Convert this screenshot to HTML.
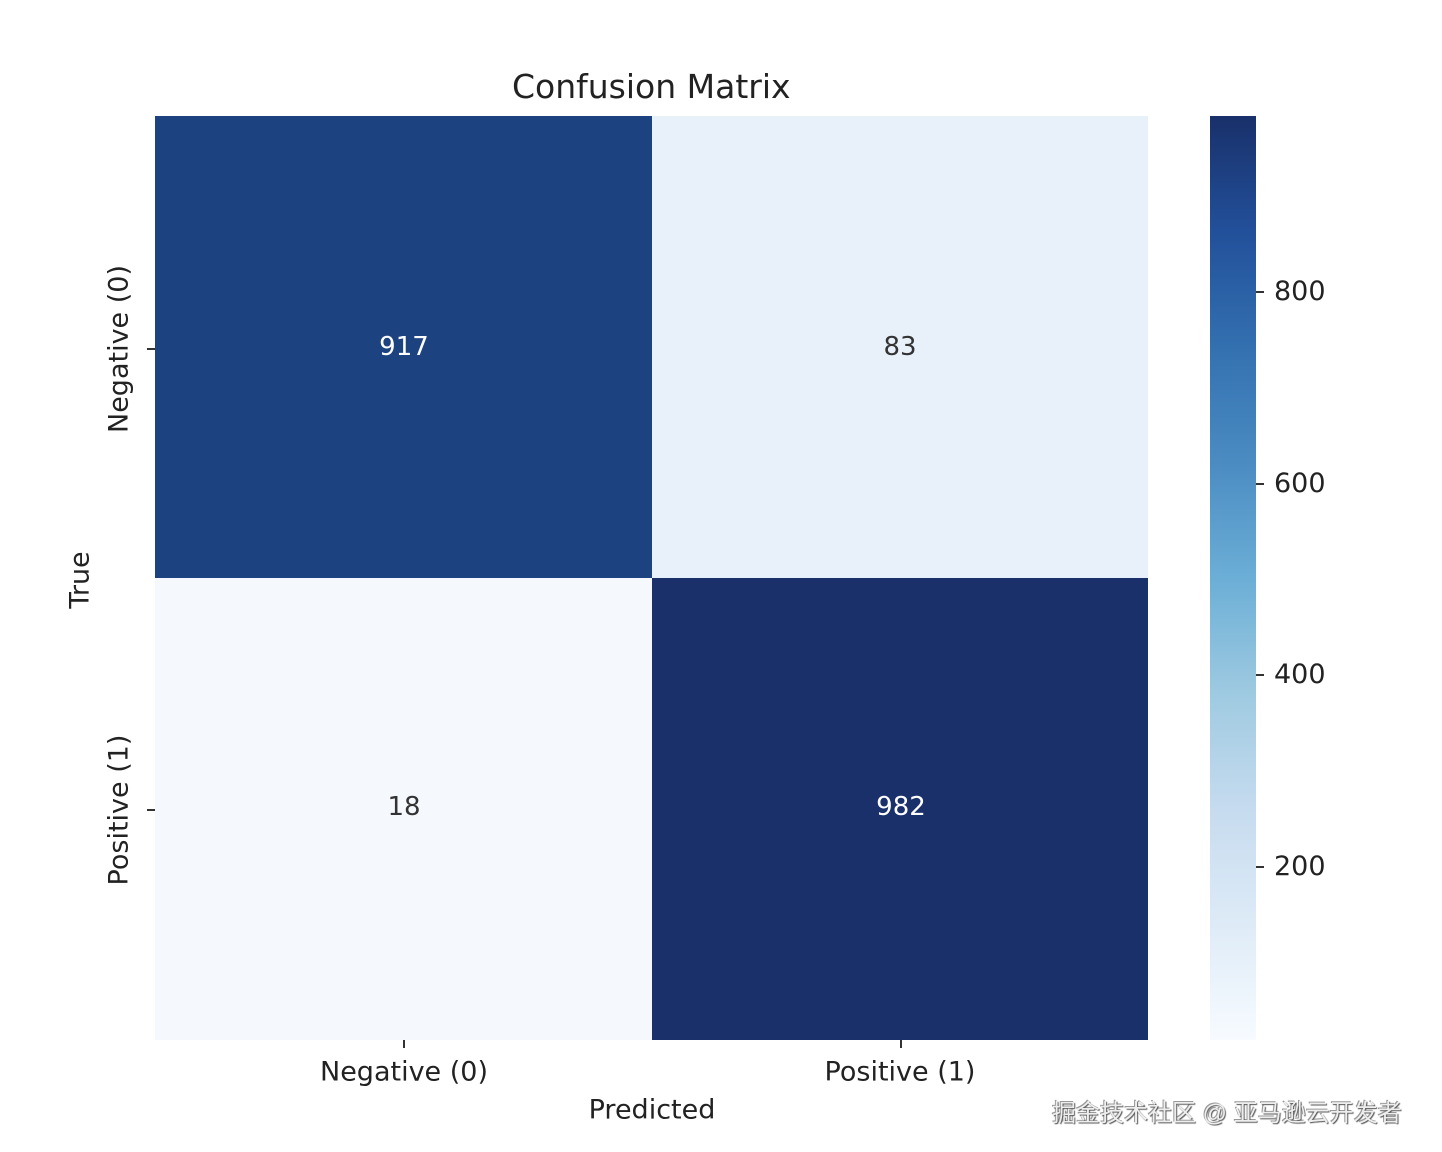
<!DOCTYPE html>
<html><head><meta charset="utf-8"><style>
html,body{margin:0;padding:0;background:#fff;}
body{width:1442px;height:1152px;position:relative;overflow:hidden;font-family:"DejaVu Sans","Liberation Sans",sans-serif;color:#222;}
.abs{position:absolute;}
.cell{position:absolute;}
.num{position:absolute;font-size:26px;transform:translate(-50%,-50%);}
.tk{position:absolute;background:#333;}
.lbl{position:absolute;font-size:27px;white-space:nowrap;}
</style></head><body>
<div class="lbl" style="left:512px;top:67px;font-size:33px;">Confusion Matrix</div>

<div class="cell" style="left:155px;top:116px;width:497px;height:462px;background:#1d4280;"></div>
<div class="cell" style="left:652px;top:116px;width:496px;height:462px;background:#e8f1fa;"></div>
<div class="cell" style="left:155px;top:578px;width:497px;height:462px;background:#f5f9fe;"></div>
<div class="cell" style="left:652px;top:578px;width:496px;height:462px;background:#19306a;"></div>

<div class="num" style="left:404px;top:347px;color:#fff;">917</div>
<div class="num" style="left:900px;top:347px;color:#333;">83</div>
<div class="num" style="left:404px;top:807px;color:#333;">18</div>
<div class="num" style="left:901px;top:807px;color:#fff;">982</div>

<div class="tk" style="left:147px;top:348px;width:8px;height:2px;"></div>
<div class="tk" style="left:147px;top:809px;width:8px;height:2px;"></div>
<div class="tk" style="left:403px;top:1040px;width:2px;height:8px;"></div>
<div class="tk" style="left:900px;top:1040px;width:2px;height:8px;"></div>

<div class="lbl" style="left:404px;top:1072px;transform:translate(-50%,-50%);">Negative (0)</div>
<div class="lbl" style="left:900px;top:1072px;transform:translate(-50%,-50%);">Positive (1)</div>
<div class="lbl" style="left:652px;top:1110px;transform:translate(-50%,-50%);">Predicted</div>
<div class="lbl" style="left:119px;top:349px;transform:translate(-50%,-50%) rotate(-90deg);">Negative (0)</div>
<div class="lbl" style="left:119px;top:810px;transform:translate(-50%,-50%) rotate(-90deg);">Positive (1)</div>
<div class="lbl" style="left:80px;top:580px;transform:translate(-50%,-50%) rotate(-90deg);">True</div>

<div class="abs" style="left:1210px;top:116px;width:46px;height:924px;background:linear-gradient(to top,#f7fbff 0%,#deebf7 12.5%,#c6dbef 25%,#9ecae1 37.5%,#6baed6 50%,#4a8cc2 62.5%,#3370b0 75%,#22509a 87.5%,#19306a 100%);"></div>
<div class="tk" style="left:1256px;top:291px;width:8px;height:2px;"></div>
<div class="tk" style="left:1256px;top:483px;width:8px;height:2px;"></div>
<div class="tk" style="left:1256px;top:674px;width:8px;height:2px;"></div>
<div class="tk" style="left:1256px;top:866px;width:8px;height:2px;"></div>
<div class="lbl" style="left:1274px;top:276px;">800</div>
<div class="lbl" style="left:1274px;top:468px;">600</div>
<div class="lbl" style="left:1274px;top:659px;">400</div>
<div class="lbl" style="left:1274px;top:851px;">200</div>

<div class="lbl" style="left:1052px;top:1093px;font-size:24px;color:#eee;font-family:'Liberation Sans','Noto Sans CJK SC',sans-serif;text-shadow:1px 1px 1px #555,-1px -1px 0 #999;">掘金技术社区 @ 亚马逊云开发者</div>
</body></html>
